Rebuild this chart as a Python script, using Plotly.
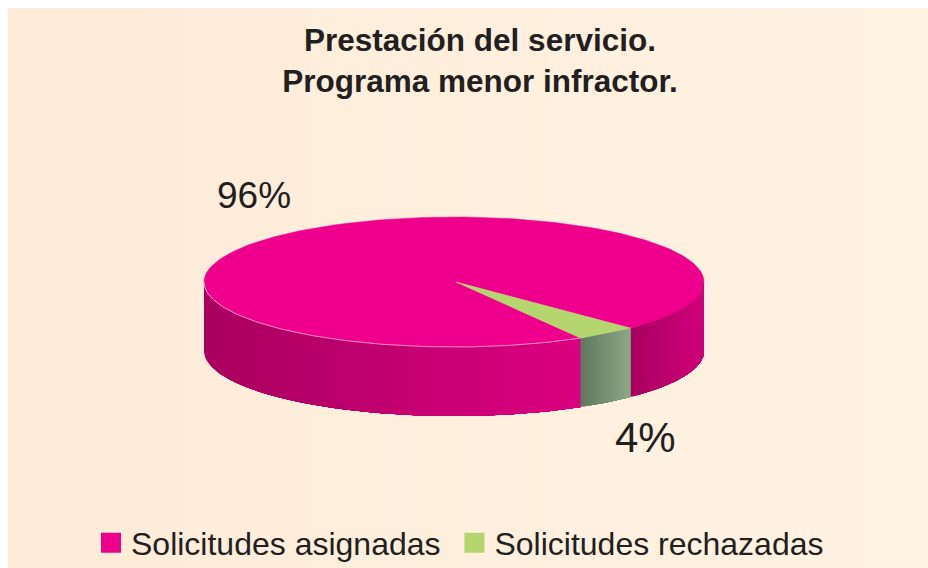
import numpy as np
import plotly.graph_objects as go

title_text = "<b>Prestación del servicio.<br>Programa menor infractor.</b>"
categories = ["Solicitudes asignadas", "Solicitudes rechazadas"]
values = [96, 4]
top_colors = ["#EE008C", "#B5D56F"]

# pie drawn in window pixels, axes run 0-928 / 576-0 so one unit is one pixel
CX, CY, RX, RY, DEPTH = 454, 282, 250, 65, 69
APEX_X = 456  # the slices meet slightly right of the ellipse centre
START = 45.2  # angle of first slice edge on the ellipse, clockwise on screen
W, H = 928, 576
PAGE = 8


def ellipse(t, dy=0):
    r = np.radians(t)
    return CX + RX * np.cos(r), CY + RY * np.sin(r) + dy


def mix(c1, c2, f):
    return "rgb(%d,%d,%d)" % tuple(round(a + (b - a) * f) for a, b in zip(c1, c2))


def side_strips(fig, t_from, t_to, dark, light, n):
    # t_from is the dark end. Shading is even across the screen, and each strip runs
    # on to t_to with the next one painted over it, so there are no seams
    edges = np.degrees(np.arccos(np.linspace(np.cos(np.radians(t_from)), np.cos(np.radians(t_to)), n + 1)))
    for i in range(n):
        ts = np.linspace(edges[i], t_to, 60)
        x, y = ellipse(ts)
        xb, yb = ellipse(ts[::-1], DEPTH)
        col = mix(dark, light, (i + 0.5) / n)
        fig.add_trace(go.Scatter(
            x=np.r_[x, xb, x[0]], y=np.r_[y, yb, y[0]], mode="lines", fill="toself",
            fillcolor=col, line=dict(width=0), hoverinfo="skip", showlegend=False,
        ))


fig = go.Figure()

# page background, light gradient from left to right
bg_x = np.linspace(PAGE, W, 47)
fig.add_trace(go.Heatmap(
    x=bg_x, y=[PAGE, H], z=[bg_x[:-1]], colorscale=[[0, "#FEEBD8"], [1, "#FFF3E3"]],
    showscale=False, hoverinfo="skip",
))

sweeps = [v / sum(values) * 360 for v in values]
pink_start = START + sweeps[1]
pink_end = START + sum(sweeps)
green_start, green_end = START, START + sweeps[1]

# side walls, only the front half of the pie shows
side_strips(fig, 180, pink_start, (168, 0, 95), (220, 0, 128), 50)
side_strips(fig, green_start, 0, (168, 0, 95), (208, 0, 122), 24)
side_strips(fig, green_end, green_start, (95, 120, 95), (140, 168, 132), 16)

# top faces
for start, end, col in [(pink_start, pink_end, top_colors[0]), (green_start, green_end, top_colors[1])]:
    ts = np.linspace(start, end, 240)
    x, y = ellipse(ts)
    fig.add_trace(go.Scatter(
        x=np.r_[APEX_X, x, APEX_X], y=np.r_[CY, y, CY], mode="lines", fill="toself",
        fillcolor=col, line=dict(color=col, width=0.5), hoverinfo="skip", showlegend=False,
    ))

# thin light rim along the front edge
x, y = ellipse(np.linspace(pink_start, 180, 120))
fig.add_trace(go.Scatter(x=x, y=y, mode="lines", line=dict(color="#F9B4D4", width=0.8),
                         hoverinfo="skip", showlegend=False))

# legend swatches, the no-break space opens the gap before the second entry
for name, col in zip([categories[0] + "\u00a0", categories[1]], top_colors):
    fig.add_trace(go.Scatter(
        x=[None], y=[None], mode="markers", name=name,
        marker=dict(symbol="square", size=16, color=col, line=dict(color=col, width=4)),
    ))

fig.update_layout(
    width=W, height=H, margin=dict(l=0, r=0, t=0, b=0),
    paper_bgcolor="white", plot_bgcolor="white",
    font=dict(family="Liberation Sans, Arial, sans-serif", color="#231F20"),
    xaxis=dict(range=[0, W], visible=False, fixedrange=True),
    yaxis=dict(range=[H, 0], visible=False, fixedrange=True),
    title=dict(text=title_text, font=dict(size=31.5, color="#231F20"), x=480 / W, xanchor="center",
               y=1 - 51 / H, yanchor="middle"),
    legend=dict(orientation="h", x=91 / W, xanchor="left", y=1 - 543 / H, yanchor="middle",
                font=dict(size=32, color="#231F20"), bgcolor="rgba(0,0,0,0)",
                itemclick=False, itemdoubleclick=False),
    annotations=[
        dict(text=f"{values[0]}%", x=254, y=195, showarrow=False, font=dict(size=37, color="#231F20")),
        dict(text=f"{values[1]}%", x=645, y=437, showarrow=False, font=dict(size=42, color="#231F20")),
    ],
)

# the page's own 8px body margin would push the figure off the window
fig.write_html("out.html", config=dict(displayModeBar=False), post_script="document.body.style.margin = '0';")
